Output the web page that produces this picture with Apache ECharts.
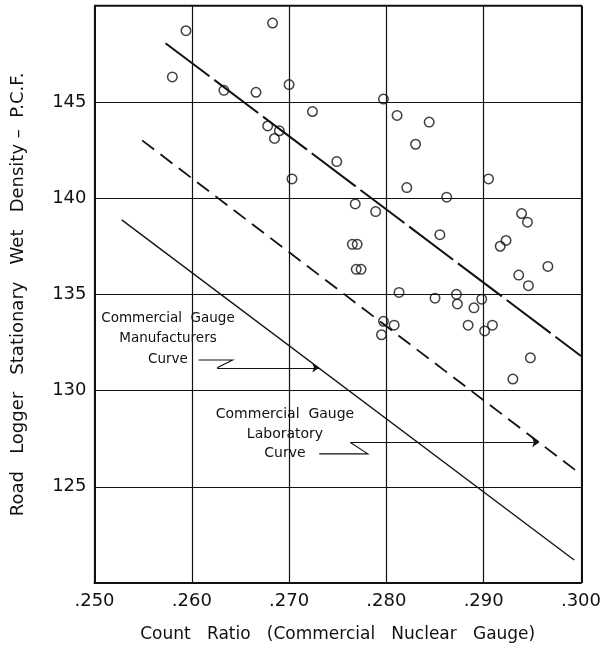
<!DOCTYPE html>
<html>
<head>
<meta charset="utf-8">
<script src="https://cdn.jsdelivr.net/npm/echarts@6/dist/echarts.min.js"></script>
<style>
  html, body { margin: 0; padding: 0; background: #fff; }
  #chart { width: 604px; height: 655px; }
</style>
</head>
<body>
<div id="chart"></div>
<script>
// Field readings: count ratio vs. stationary wet density (P.C.F.)
const countRatio = [
  0.2580, 0.2594, 0.2633, 0.2666, 0.2678, 0.2683, 0.2685, 0.2690, 0.2700, 0.2703,
  0.2724, 0.2749, 0.2765, 0.2768, 0.2770, 0.2769, 0.2774, 0.2789, 0.2795, 0.2797,
  0.2797, 0.2808, 0.2811, 0.2813, 0.2821, 0.2830, 0.2844, 0.2850, 0.2855, 0.2862,
  0.2872, 0.2873, 0.2884, 0.2890, 0.2898, 0.2901, 0.2905, 0.2909, 0.2917, 0.2923,
  0.2930, 0.2936, 0.2939, 0.2945, 0.2946, 0.2948, 0.2966
];
const wetDensity = [
  146.3, 148.7, 145.6, 145.5, 143.75, 149.1, 143.1, 143.5, 145.9, 141.0,
  144.5, 141.9, 137.6, 139.7, 137.6, 136.3, 136.3, 139.3, 132.9, 133.6,
  145.15, 133.4, 144.3, 135.1, 140.55, 142.8, 143.95, 134.8, 138.1, 140.05,
  135.0, 134.5, 133.4, 134.3, 134.75, 133.1, 141.0, 133.4, 137.5, 137.8,
  130.6, 136.0, 139.2, 138.75, 135.45, 131.7, 136.45
];

// Calibration curves, given by their end points [count ratio, density]
const fieldCurve = [[0.2573, 148.05], [0.3000, 131.8]];
const laboratoryCurve = [[0.2549, 143.0], [0.2996, 125.8]];
const manufacturersCurve = [[0.2528, 138.87], [0.2993, 121.2]];

// Leader lines from the curve captions: a short jog, then an arrow to the curve
const manufacturersJog = [[0.2607, 131.59], [0.2642, 131.59], [0.2626, 131.18]];
const manufacturersArrow = [[0.2626, 131.18], [0.2731, 131.18]];
const laboratoryJog = [[0.2731, 126.71], [0.2781, 126.71], [0.2763, 127.30]];
const laboratoryArrow = [[0.2763, 127.30], [0.2957, 127.30]];

// Axis ranges and ticks
const xMin = 0.25, xMax = 0.30, xStep = 0.01;
const yMin = 120, yMax = 150, yStep = 5;
const yTickLabels = [125, 130, 135, 140, 145];

const FONT = '"DejaVu Sans", "Liberation Sans", sans-serif';
const INK = '#111111';

const points = countRatio.map((x, i) => [x, wetDensity[i]]);

const chart = echarts.init(document.getElementById('chart'), null, { renderer: 'canvas' });

chart.setOption({
  animation: false,
  backgroundColor: '#ffffff',
  grid: { left: 94.5, right: 22, top: 5.7, bottom: 72, show: false },
  xAxis: {
    type: 'value',
    min: xMin, max: xMax, interval: xStep,
    name: 'Count   Ratio   (Commercial   Nuclear   Gauge)',
    nameLocation: 'middle',
    nameGap: 43,
    nameTextStyle: { fontFamily: FONT, fontSize: 17, color: INK },
    axisLine: { show: true, onZero: false, lineStyle: { color: INK, width: 2 } },
    axisTick: { show: false },
    axisLabel: {
      margin: 9,
      fontFamily: FONT, fontSize: 18, color: INK,
      formatter: v => '.' + Math.round(v * 1000).toString()
    },
    splitLine: { show: true, lineStyle: { color: INK, width: 1.2 } }
  },
  yAxis: {
    type: 'value',
    min: yMin, max: yMax, interval: yStep,
    name: 'Road   Logger   Stationary   Wet   Density –  P.C.F.',
    nameLocation: 'middle',
    nameGap: 67,
    nameRotate: 90,
    nameTextStyle: { fontFamily: FONT, fontSize: 18, color: INK },
    axisLine: { show: true, onZero: false, lineStyle: { color: INK, width: 2 } },
    axisTick: { show: false },
    axisLabel: {
      margin: 8,
      fontFamily: FONT, fontSize: 18, color: INK,
      formatter: v => (yTickLabels.indexOf(v) >= 0 ? String(v) : '')
    },
    splitLine: { show: true, lineStyle: { color: INK, width: 1.2 } }
  },
  graphic: [
    // top and right frame edges
    { type: 'line', shape: { x1: 94.5, y1: 5.7, x2: 582, y2: 5.7 }, style: { stroke: INK, lineWidth: 2 }, z: 10 },
    { type: 'line', shape: { x1: 582, y1: 5.7, x2: 582, y2: 583 }, style: { stroke: INK, lineWidth: 2 }, z: 10 },
    {
      type: 'text', x: 168, y: 308, z: 20,
      style: {
        text: 'Commercial  Gauge\nManufacturers\nCurve',
        font: '13.5px ' + FONT, fill: INK, align: 'center', verticalAlign: 'top',
        lineHeight: 20.5
      }
    },
    {
      type: 'text', x: 285, y: 405, z: 20,
      style: {
        text: 'Commercial  Gauge\nLaboratory\nCurve',
        font: '14px ' + FONT, fill: INK, align: 'center', verticalAlign: 'top',
        lineHeight: 19.5
      }
    }
  ],
  series: [
    {
      name: 'Field readings',
      type: 'scatter',
      data: points,
      symbol: 'circle',
      symbolSize: 9.5,
      itemStyle: { color: 'rgba(0,0,0,0)', borderColor: INK, borderWidth: 1.5 },
      z: 5
    },
    {
      name: 'Field curve',
      type: 'line',
      data: fieldCurve,
      showSymbol: false,
      lineStyle: { color: INK, width: 2, type: [55, 6] }
    },
    {
      name: 'Laboratory curve',
      type: 'line',
      data: laboratoryCurve,
      showSymbol: false,
      lineStyle: { color: INK, width: 1.8, type: [15, 8] }
    },
    {
      name: 'Manufacturers curve',
      type: 'line',
      data: manufacturersCurve,
      showSymbol: false,
      lineStyle: { color: INK, width: 1.3 }
    },
    {
      name: 'Leader jogs',
      type: 'lines',
      coordinateSystem: 'cartesian2d',
      polyline: true,
      lineStyle: { color: INK, width: 1.1, opacity: 1 },
      data: [
        { coords: manufacturersJog },
        { coords: laboratoryJog }
      ],
      z: 6
    },
    {
      name: 'Leader arrows',
      type: 'lines',
      coordinateSystem: 'cartesian2d',
      symbol: ['none', 'arrow'],
      symbolSize: 7,
      lineStyle: { color: INK, width: 1.1, opacity: 1 },
      data: [
        { coords: manufacturersArrow },
        { coords: laboratoryArrow }
      ],
      z: 6
    }
  ]
});
</script>
</body>
</html>
